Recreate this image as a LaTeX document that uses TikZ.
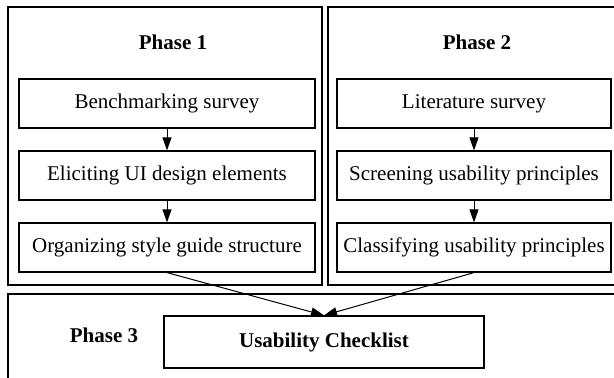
\documentclass[tikz,border=0pt]{standalone}
\usepackage{fontspec}
\setmainfont{Liberation Serif}
\usetikzlibrary{arrows.meta}
\begin{document}
\begin{tikzpicture}[x=1pt,y=-1pt,
  cluster/.style={draw=black,line width=1.2pt},
  stepbox/.style={draw=black,line width=1.2pt,rectangle,inner sep=0pt,font=\fontsize{21}{24}\selectfont},
  title/.style={font=\fontsize{21}{24}\selectfont\bfseries,inner sep=0pt},
  arr/.style={line width=1pt,-{Triangle[length=13pt,width=9pt]}}]
\useasboundingbox (0,0) rectangle (614,378);
\clip (0,0) rectangle (614,378);
\fill[white] (0,0) rectangle (614,378);
% clusters
\draw[cluster] (8,7) rectangle (322,285);
\draw[cluster] (328,7) rectangle (624,285);
\draw[cluster] (8,294) rectangle (624,392);
% titles
\node[title] (p1) at (173,42) {Phase 1};
\node[title] (p2) at (477,42) {Phase 2};
\node[title] (p3) at (104,335) {Phase 3};
% phase 1 boxes
\node[stepbox,minimum width=296pt,minimum height=49pt] (b1) at (167,103.5) {Benchmarking survey};
\node[stepbox,minimum width=296pt,minimum height=49pt] (b2) at (167,175.5) {Eliciting UI design elements};
\node[stepbox,minimum width=296pt,minimum height=49pt] (b3) at (167,247.5) {Organizing style guide structure};
% phase 2 boxes
\node[stepbox,minimum width=274pt,minimum height=49pt] (c1) at (474,103.5) {Literature survey};
\node[stepbox,minimum width=274pt,minimum height=49pt] (c2) at (474,175.5) {Screening usability principles};
\node[stepbox,minimum width=274pt,minimum height=49pt] (c3) at (474,247.5) {Classifying usability principles};
% phase 3
\node[stepbox,minimum width=320pt,minimum height=52pt,font=\fontsize{21}{24}\selectfont\bfseries] (uc) at (324,342) {Usability Checklist};
% arrows
\draw[arr] (b1.south) -- (b2.north);
\draw[arr] (b2.south) -- (b3.north);
\draw[arr] (c1.south) -- (c2.north);
\draw[arr] (c2.south) -- (c3.north);
\draw[arr] (b3.south) -- (uc.north);
\draw[arr] (c3.south) -- (uc.north);
\end{tikzpicture}
\end{document}
